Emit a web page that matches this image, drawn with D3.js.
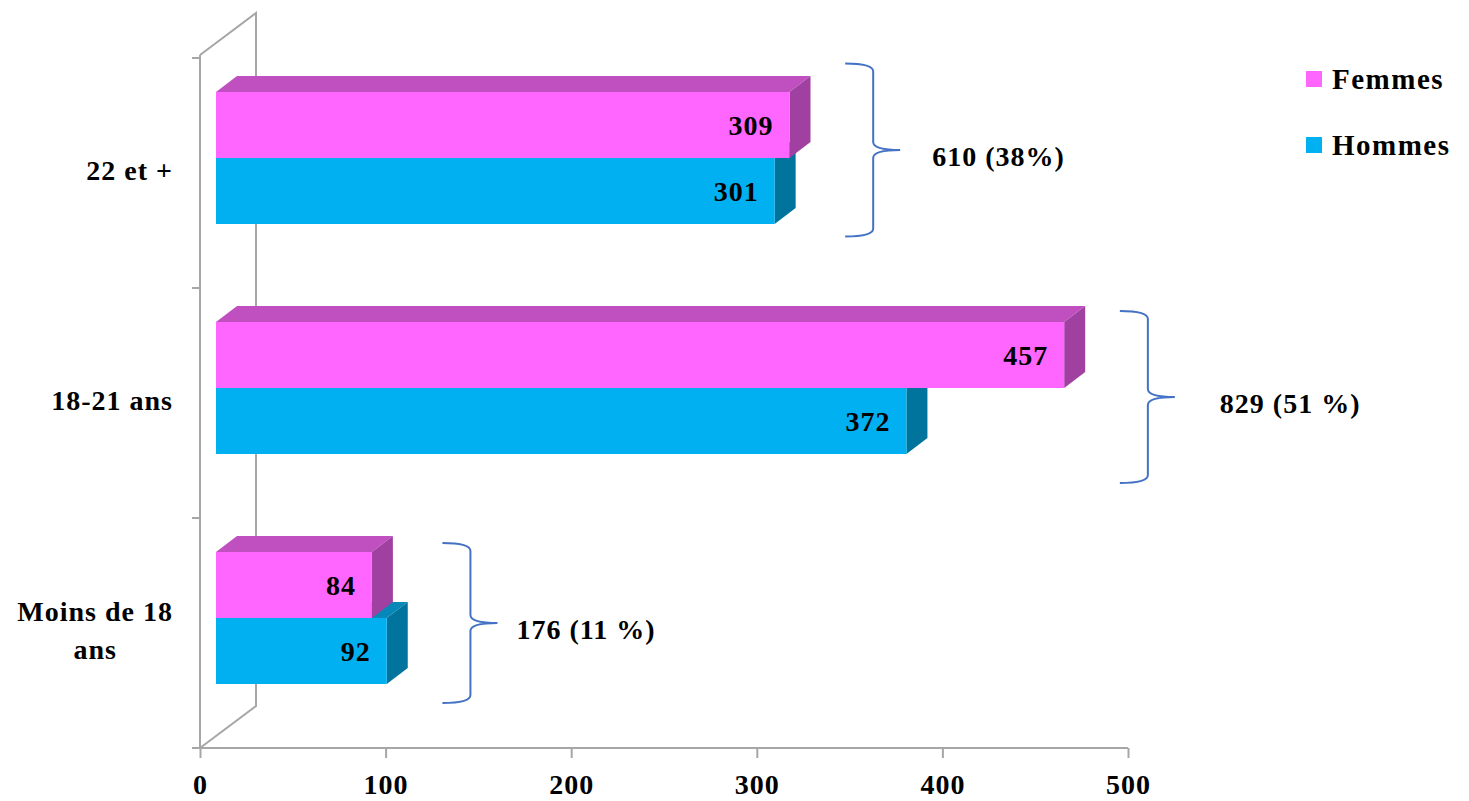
<!DOCTYPE html>
<html>
<head>
<meta charset="utf-8">
<script src="https://cdn.jsdelivr.net/npm/d3@7"></script>
<style>
  html, body { margin: 0; padding: 0; background: #fff; }
  svg { display: block; }
  text { font-family: "Palatino Linotype", "Book Antiqua", Palatino, "Liberation Serif", "DejaVu Serif", serif; font-weight: bold; fill: #000; letter-spacing: 1px; }
</style>
</head>
<body>
<svg id="chart" width="1469" height="801"></svg>
<script>
// ---------- data ----------
const categories = ["Moins de 18 ans", "18-21 ans", "22 et +"];
const categoryLines = [["Moins de 18", "ans"], ["18-21 ans"], ["22 et +"]];
const seriesNames = ["Femmes", "Hommes"];
const femmes = [84, 457, 309];
const hommes = [92, 372, 301];
const totalLabels = ["176 (11 %)", "829 (51 %)", "610 (38%)"];
const xTicks = [0, 100, 200, 300, 400, 500];

// ---------- layout ----------
const W = 1469, H = 801;
const svg = d3.select("#chart");
const colors = {
  Femmes: { front: "#FF66FF", top: "#C050C0", side: "#A040A0" },
  Hommes: { front: "#00B0F0", top: "#0888B8", side: "#00749C" }
};
const wallColor = "#A6A6A6";
const depth = { dx: 56, dy: -42 };      // wall depth
const barDepth = { dx: 21, dy: -16 };   // bar depth
const front = { dx: 16, dy: -12 };      // bar front-face shift from floor plane
const fs = "28px";

const xAxisScale = d3.scaleLinear().domain([0, 500]).range([200, 1128]);
const xBar = d3.scaleLinear().domain([0, 500]).range([200 + front.dx, 1128 + front.dx]);
const yFloor = d3.scaleBand().domain(categories.slice().reverse()).range([58, 748]).padding(0);
const barBlock = 132;
const ySub = d3.scaleBand().domain(seriesNames).range([0, barBlock]);
const barOffset = 46;

const axisY = yFloor.range()[1];

// ---------- walls ----------
const g = svg.append("g");
const wall = g.append("g").attr("stroke", wallColor).attr("stroke-width", 2).attr("fill", "none");
const topY = 55;
wall.append("path").attr("d", `M200,${topY} L${200 + depth.dx},${topY + depth.dy} L${200 + depth.dx},${axisY + depth.dy} L200,${axisY}`);
wall.append("line").attr("x1", 200).attr("x2", 200).attr("y1", topY).attr("y2", axisY);

// y ticks at band boundaries
const yBounds = [58, ...categories.slice().reverse().map(c => yFloor(c) + yFloor.bandwidth())];
wall.selectAll(".ytick").data(yBounds).join("line")
  .attr("x1", 192).attr("x2", 200).attr("y1", d => d).attr("y2", d => d);

// x axis
const xAxis = d3.axisBottom(xAxisScale).tickValues(xTicks).tickSize(10).tickFormat(d3.format("d"));
const xg = g.append("g").attr("transform", `translate(0,${axisY})`).call(xAxis);
xg.select(".domain").remove();
xg.attr("font-family", null).attr("font-size", null);
xg.selectAll(".tick line").attr("stroke", wallColor).attr("stroke-width", 2);
xg.selectAll(".tick text").attr("y", 26).attr("dy", "0.71em").style("font-size", fs).attr("fill", "#000");
g.append("line").attr("x1", 192).attr("x2", 1128).attr("y1", axisY).attr("y2", axisY)
  .attr("stroke", wallColor).attr("stroke-width", 2);

// ---------- bars ----------
function drawBar(parent, x0, x1, y0, h, col) {
  const b = barDepth;
  parent.append("path").attr("fill", col.top)
    .attr("d", `M${x0},${y0} L${x0 + b.dx},${y0 + b.dy} L${x1 + b.dx},${y0 + b.dy} L${x1},${y0} Z`);
  parent.append("path").attr("fill", col.side)
    .attr("d", `M${x1},${y0} L${x1 + b.dx},${y0 + b.dy} L${x1 + b.dx},${y0 + h + b.dy} L${x1},${y0 + h} Z`);
  parent.append("rect").attr("x", x0).attr("y", y0).attr("width", x1 - x0).attr("height", h).attr("fill", col.front);
}

const bars = g.append("g");
const seriesData = { Femmes: femmes, Hommes: hommes };
categories.forEach((cat, i) => {
  const blockTop = yFloor(cat) + barOffset + front.dy;
  ["Hommes", "Femmes"].forEach(s => {
    const v = seriesData[s][i];
    const y0 = blockTop + ySub(s);
    drawBar(bars, xBar(0), xBar(v), y0, ySub.bandwidth(), colors[s]);
  });
  ["Hommes", "Femmes"].forEach(s => {
    const v = seriesData[s][i];
    const y0 = blockTop + ySub(s);
    bars.append("text").attr("x", xBar(v) - 16).attr("y", y0 + ySub.bandwidth() / 2)
      .attr("dy", "0.35em").attr("text-anchor", "end").style("font-size", fs).text(v);
  });
});

// ---------- category labels ----------
const labelRight = 173;
categories.forEach((cat, i) => {
  const lines = categoryLines[i];
  const cy = yFloor(cat) + yFloor.bandwidth() / 2;
  const lh = 38;
  const grp = g.append("g");
  const texts = lines.map((ln, j) => grp.append("text")
    .attr("y", cy - 3 + (j - (lines.length - 1) / 2) * lh).attr("dy", "0.35em")
    .style("font-size", fs).text(ln));
  const maxW = d3.max(texts, t => t.node().getComputedTextLength());
  texts.forEach(t => t.attr("text-anchor", "middle").attr("x", labelRight - maxW / 2));
});

// ---------- braces & totals ----------
const braceNudge = [5, 9, -8];
const braceHeight = [160, 172, 173];
const labelGap = [19, 45, 32];
const braceColor = "#4472C4";
categories.forEach((cat, i) => {
  const maxV = Math.max(femmes[i], hommes[i]);
  const x0 = xBar(maxV + 30);
  const x1 = x0 + 28;
  const tip = x1 + 27;
  const blockTop = yFloor(cat) + barOffset + front.dy;
  const mid = blockTop + ySub.bandwidth() + braceNudge[i];
  const top = mid - braceHeight[i] / 2, bot = mid + braceHeight[i] / 2;
  const r = 8;
  g.append("path").attr("fill", "none").attr("stroke", braceColor).attr("stroke-width", 2)
    .attr("d", `M${x0},${top} Q${x1},${top} ${x1},${top + r} L${x1},${mid - r} Q${x1},${mid} ${tip},${mid}
      Q${x1},${mid} ${x1},${mid + r} L${x1},${bot - r} Q${x1},${bot} ${x0},${bot}`);
  g.append("text").attr("x", tip + labelGap[i]).attr("y", mid + 6).attr("dy", "0.35em")
    .style("font-size", fs).text(totalLabels[i]);
});

// ---------- legend ----------
const legend = g.append("g").attr("transform", "translate(1306,71)");
seriesNames.forEach((s, i) => {
  const row = legend.append("g").attr("transform", `translate(0,${i * 66})`);
  row.append("rect").attr("width", 16).attr("height", 16).attr("fill", colors[s].front);
  row.append("text").attr("x", 26).attr("y", 8).attr("dy", "0.35em")
    .style("font-size", "29px").style("letter-spacing", "1.5px").text(s);
});
</script>
</body>
</html>
